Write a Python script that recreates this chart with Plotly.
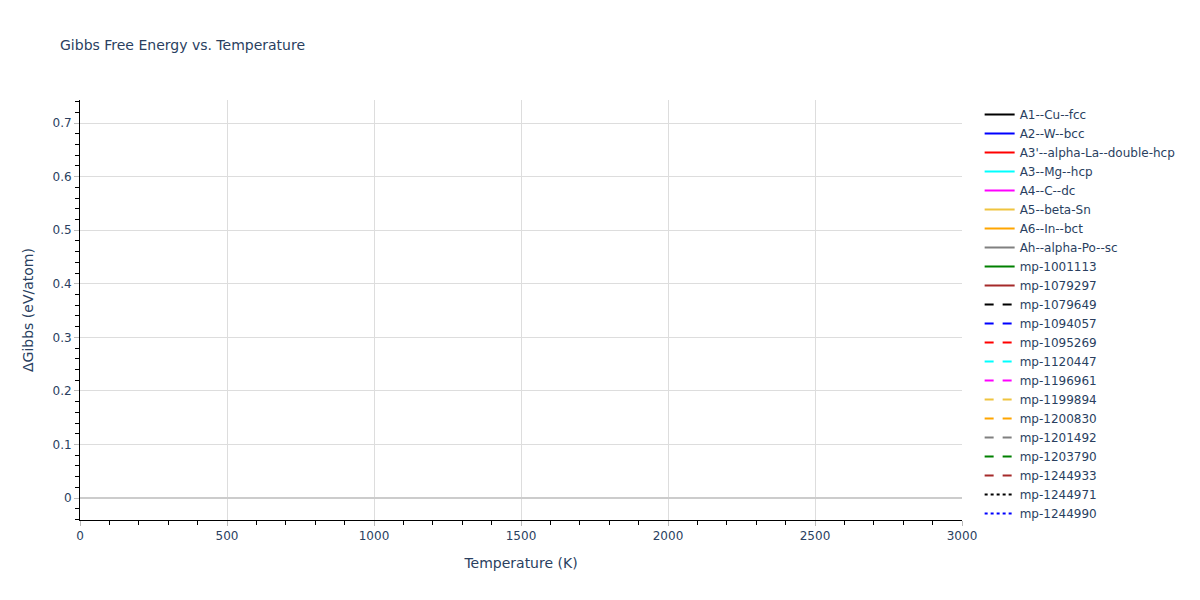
import plotly.graph_objects as go

# Phase names shown in the legend (no visible data points in the reference)
phase_names = [
    "A1--Cu--fcc", "A2--W--bcc", "A3'--alpha-La--double-hcp", "A3--Mg--hcp",
    "A4--C--dc", "A5--beta-Sn", "A6--In--bct", "Ah--alpha-Po--sc",
    "mp-1001113", "mp-1079297", "mp-1079649", "mp-1094057", "mp-1095269",
    "mp-1120447", "mp-1196961", "mp-1199894", "mp-1200830", "mp-1201492",
    "mp-1203790", "mp-1244933", "mp-1244971", "mp-1244990",
]
phase_colors = [
    "black", "blue", "red", "cyan", "magenta", "#EFC43F", "orange", "gray",
    "green", "brown", "black", "blue", "red", "cyan", "magenta", "#EFC43F",
    "orange", "gray", "green", "brown", "black", "blue",
]
phase_dashes = ["solid"] * 10 + ["dash"] * 10 + ["dot"] * 2

# Temperature (K) and ΔGibbs (eV/atom) series: no drawable values in the reference
temperatures = {name: [None] for name in phase_names}
delta_gibbs = {name: [None] for name in phase_names}

x_range = [0, 3000]
y_range = [-0.041, 0.743]

fig = go.Figure()
for name, color, dash in zip(phase_names, phase_colors, phase_dashes):
    fig.add_trace(go.Scatter(
        x=temperatures[name], y=delta_gibbs[name], mode="lines", name=name,
        line=dict(color=color, dash=dash, width=2), showlegend=True,
    ))

axis_common = dict(
    showline=True, linecolor="black", linewidth=1,
    showgrid=True, gridcolor="#dddddd",
    ticks="outside", tickcolor="#bbbbbb", ticklen=5,
    zeroline=False,
)

fig.update_layout(
    template="plotly_white",
    width=1200, height=600,
    title=dict(text="Gibbs Free Energy vs. Temperature", x=0.05, font=dict(size=14)),
    margin=dict(l=80, r=238, t=100, b=80),
    font=dict(family="Verdana, DejaVu Sans, sans-serif", size=12, color="#2a3f5f"),
    xaxis=dict(title=dict(text="Temperature (K)"), range=x_range, dtick=500,
               minor=dict(ticks="outside", dtick=100, ticklen=4, tickcolor="black"),
               **axis_common),
    yaxis=dict(title=dict(text="ΔGibbs (eV/atom)"), range=y_range, dtick=0.1,
               minor=dict(ticks="outside", dtick=0.02, ticklen=4, tickcolor="black"),
               **axis_common),
    showlegend=True,
    legend=dict(font=dict(size=12), maxheight=1000),
)
fig.update_yaxes(zeroline=True, zerolinecolor="#cccccc", zerolinewidth=2)

fig.write_html("out.html", config={"displayModeBar": False},
               post_script="document.body.style.margin='0';")
